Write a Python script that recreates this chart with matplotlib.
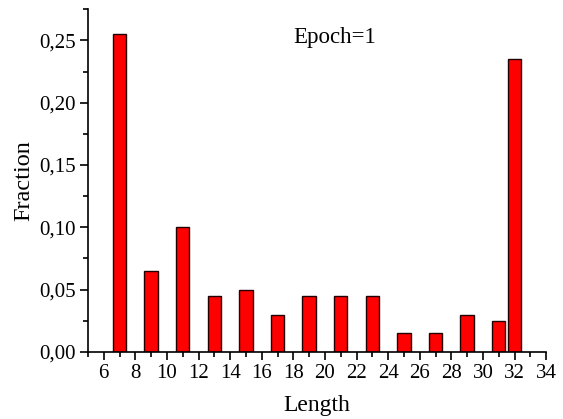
import matplotlib
matplotlib.use('Agg')
import matplotlib.pyplot as plt
from matplotlib.ticker import MultipleLocator, FuncFormatter

# Data
lengths = [7, 9, 11, 13, 15, 17, 19, 21, 23, 25, 27, 29, 31, 32]
fractions = [0.255, 0.065, 0.10, 0.045, 0.05, 0.03, 0.045, 0.045, 0.045,
             0.015, 0.015, 0.03, 0.025, 0.235]

plt.rcParams['font.family'] = ['Liberation Serif', 'DejaVu Serif']

fig = plt.figure(figsize=(5.63, 4.19), dpi=100)
ax = fig.add_axes([0.1563, 0.160, 0.8137, 0.818])

ax.bar(lengths, fractions, width=0.85, color='#ff0000', edgecolor='#200000', linewidth=1.0)

ax.set_xlim(5, 34)
ax.set_ylim(0, 0.275)
ax.xaxis.set_major_locator(MultipleLocator(2))
ax.xaxis.set_minor_locator(MultipleLocator(1))
ax.yaxis.set_major_locator(MultipleLocator(0.05))
ax.yaxis.set_minor_locator(MultipleLocator(0.025))
ax.yaxis.set_major_formatter(FuncFormatter(lambda v, p: f'{v:.2f}'.replace('.', ',')))
ax.set_xticks(range(6, 35, 2))

for s in ['top', 'right']:
    ax.spines[s].set_visible(False)
for s in ['left', 'bottom']:
    ax.spines[s].set_linewidth(1.2)

ax.tick_params(which='major', direction='out', length=6, width=1.2, labelsize=15, pad=3)
ax.tick_params(which='minor', direction='out', length=3.5, width=1.2)

ax.set_xlabel('Length', fontsize=17, labelpad=8)
ax.set_ylabel('Fraction', fontsize=17.5, labelpad=3)
ax.text(20.6, 0.252, 'Epoch=1', fontsize=16.5, ha='center', va='center')

fig.savefig('out.png', dpi=100)
